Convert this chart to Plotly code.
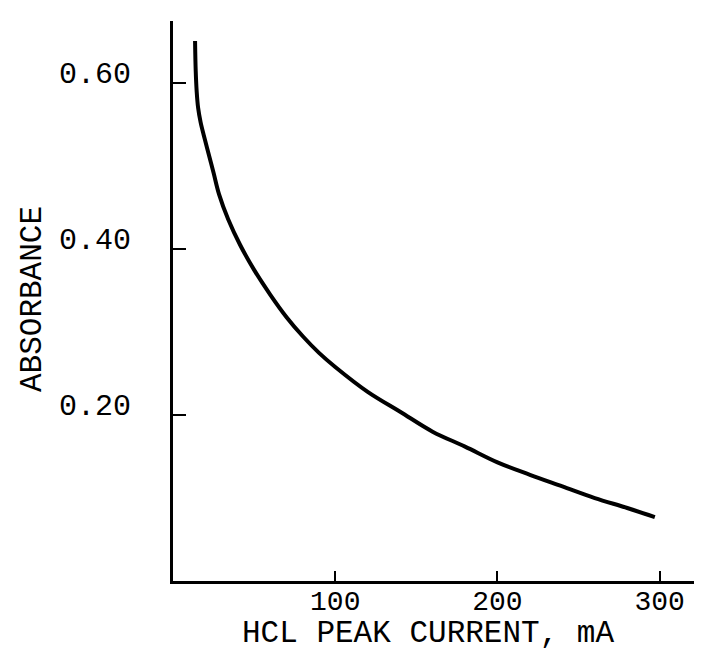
import plotly.graph_objects as go

# Data
current_mA = [13.6, 14.0, 14.6, 15.5, 17, 19, 21, 25, 28.4, 34, 41.4, 50, 60, 70, 80, 90,
              100, 120, 140, 160, 180, 200, 220, 240, 260, 280, 297]
absorbance = [0.651, 0.615, 0.59, 0.57, 0.553, 0.537, 0.522, 0.492, 0.466, 0.436, 0.405,
              0.375, 0.345, 0.318, 0.295, 0.275, 0.258, 0.228, 0.204, 0.18, 0.162, 0.143,
              0.128, 0.114, 0.1, 0.088, 0.077]

x_ticks = [100, 200, 300]
x_tick_labels = ["100", "200", "300"]
y_ticks = [0.2, 0.4, 0.6]
y_tick_labels = ["0.20", "0.40", "0.60"]

FONT = "Liberation Mono"

fig = go.Figure()
fig.add_trace(go.Scatter(
    x=current_mA, y=absorbance, mode="lines",
    line=dict(color="black", width=4, shape="spline", smoothing=1.0),
    hoverinfo="skip", showlegend=False,
))

fig.update_layout(
    width=702, height=651,
    margin=dict(l=165, r=0, t=13, b=78),
    paper_bgcolor="white", plot_bgcolor="white",
    font=dict(family=FONT, color="black", size=29),
    showlegend=False,
)

fig.update_xaxes(
    range=[0, 331], showgrid=False, zeroline=False,
    showline=True, linecolor="black", linewidth=3,
    tickmode="array", tickvals=x_ticks, ticktext=x_tick_labels,
    ticks="inside", ticklen=10, tickwidth=1.5, tickcolor="black",
    tickfont=dict(family=FONT, size=28, color="black"),
    ticklabelstandoff=-8,
)
fig.update_yaxes(
    range=[0, 0.675], showgrid=False, zeroline=False,
    showline=True, linecolor="black", linewidth=3,
    tickmode="array", tickvals=y_ticks, ticktext=y_tick_labels,
    ticks="inside", ticklen=13, tickwidth=2, tickcolor="black",
    tickfont=dict(family=FONT, size=30, color="black"),
    ticklabelstandoff=33, ticklabelshift=-11,
)

fig.add_annotation(
    text="HCL PEAK CURRENT, mA", xref="paper", yref="paper",
    x=(420 - 165) / 537, y=-(625 - 573) / 560, xanchor="center", yanchor="middle",
    showarrow=False, font=dict(family=FONT, size=31, color="black"),
)
fig.add_annotation(
    text="ABSORBANCE", xref="paper", yref="paper",
    x=-(165 - 24) / 537, y=(573 - 291) / 560, xanchor="center", yanchor="middle",
    textangle=-90, showarrow=False, font=dict(family=FONT, size=31, color="black"),
)

fig.write_html("out.html")
